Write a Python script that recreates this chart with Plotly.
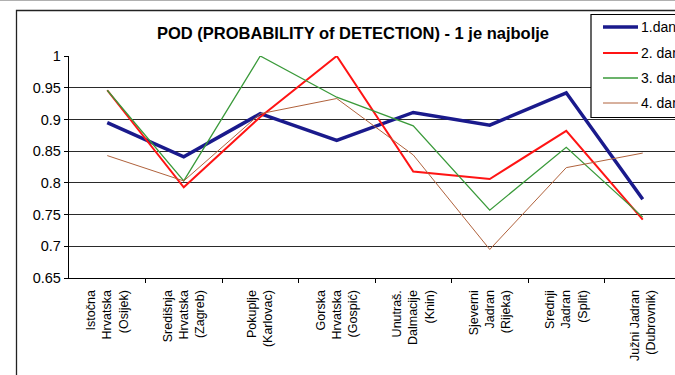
import plotly.graph_objects as go

# Regions (x-axis categories)
regions = [
    "Istočna<br>Hrvatska<br>(Osijek)",
    "Središnja<br>Hrvatska<br>(Zagreb)",
    "Pokuplje<br>(Karlovac)",
    "Gorska<br>Hrvatska<br>(Gospić)",
    "Unutraš.<br>Dalmacije<br>(Knin)",
    "Sjeverni<br>Jadran<br>(Rijeka)",
    "Srednji<br>Jadran<br>(Split)",
    "Južni Jadran<br>(Dubrovnik)",
]

# POD values per forecast day
dan1 = [0.895, 0.841, 0.909, 0.867, 0.911, 0.891, 0.942, 0.774]
dan2 = [0.946, 0.793, 0.904, 1.000, 0.818, 0.806, 0.882, 0.742]
dan3 = [0.946, 0.803, 1.000, 0.935, 0.890, 0.757, 0.856, 0.746]
dan4 = [0.843, 0.803, 0.909, 0.933, 0.844, 0.695, 0.824, 0.847]

series_names = ["1.dan", "2. dan", "3. dan", "4. dan"]
series_values = [dan1, dan2, dan3, dan4]
series_colors = ["#1a1a8c", "#ff1414", "#3a9a3a", "#b0623c"]
series_widths = [3.5, 2.0, 1.3, 1.0]

y_ticks = [0.65, 0.7, 0.75, 0.8, 0.85, 0.9, 0.95, 1.0]
y_ticktext = ["0.65", "0.7", "0.75", "0.8", "0.85", "0.9", "0.95", "1"]

W, H = 675, 375
ML, MT, MB = 69, 56, 97
plot_w = W - ML
plot_h = H - MT - MB
cat_w = 76.5

idx = list(range(len(regions)))

fig = go.Figure()
for name, vals, col, lw in zip(series_names, series_values, series_colors, series_widths):
    fig.add_trace(go.Scatter(
        x=idx, y=vals, mode="lines", name=name,
        line=dict(color=col, width=lw),
        showlegend=False,
    ))

def px_x(px):
    return (px - ML) / plot_w

def px_y(py):
    return (H - MB - py) / plot_h

shapes = [
    # outer chart frame
    dict(type="rect", xref="paper", yref="paper",
         x0=px_x(16.5), x1=px_x(W + 10), y0=px_y(H + 10), y1=px_y(10.5),
         line=dict(color="#222222", width=1.3), fillcolor="rgba(0,0,0,0)",
         layer="below"),
    # thin page rule along the top
    dict(type="line", xref="paper", yref="paper",
         x0=px_x(0), x1=px_x(W + 5), y0=px_y(0.5), y1=px_y(0.5),
         line=dict(color="#b0b0b0", width=1)),
    # legend box, running past the right edge of the chart
    dict(type="rect", xref="paper", yref="paper",
         x0=px_x(591), x1=px_x(W + 20), y0=px_y(117.5), y1=px_y(14.5),
         line=dict(color="black", width=1.2), fillcolor="white",
         layer="above"),
]
annotations = []

# legend entries: sample line plus label for each series
legend_rows = [27, 53, 78, 103]
for name, col, lw, ry in zip(series_names, series_colors, series_widths, legend_rows):
    shapes.append(dict(type="line", xref="paper", yref="paper",
                       x0=px_x(603), x1=px_x(638), y0=px_y(ry), y1=px_y(ry),
                       line=dict(color=col, width=lw), layer="above"))
    annotations.append(dict(xref="paper", yref="paper",
                            x=px_x(639), y=px_y(ry),
                            xanchor="left", yanchor="middle",
                            text=name, showarrow=False,
                            font=dict(size=14, color="black")))

fig.update_layout(
    width=W, height=H,
    margin=dict(l=ML, r=0, t=MT, b=MB, autoexpand=False),
    paper_bgcolor="white",
    plot_bgcolor="white",
    font=dict(family="Arial, 'Liberation Sans', sans-serif", color="black"),
    title=dict(
        text="POD (PROBABILITY of DETECTION) - 1 je najbolje",
        x=353 / W, xref="container", xanchor="center",
        y=1 - 33 / H, yref="container", yanchor="middle",
        font=dict(size=16.5, weight="bold", color="black"),
    ),
    xaxis=dict(
        range=[-0.5, -0.5 + plot_w / cat_w],
        tickmode="array", tickvals=idx, ticktext=regions,
        tickangle=-90, ticks="",
        tickfont=dict(size=12.5),
        ticklabelstandoff=6,
        showgrid=False, zeroline=False,
        showline=True, linecolor="black", linewidth=1.3,
        minor=dict(tickmode="array",
                   tickvals=[i + 0.5 for i in idx[:-1]],
                   ticks="outside", ticklen=4, tickcolor="black",
                   tickwidth=1, showgrid=False),
    ),
    yaxis=dict(
        range=[0.65, 1.0],
        tickmode="array", tickvals=y_ticks, ticktext=y_ticktext,
        ticks="outside", ticklen=4, tickcolor="black",
        tickfont=dict(size=14.5),
        showgrid=True, gridcolor="#2a2a2a", gridwidth=1,
        zeroline=False,
        showline=True, linecolor="black", linewidth=1.3,
    ),
    showlegend=False,
    shapes=shapes,
    annotations=annotations,
)

fig.write_html("out.html")
